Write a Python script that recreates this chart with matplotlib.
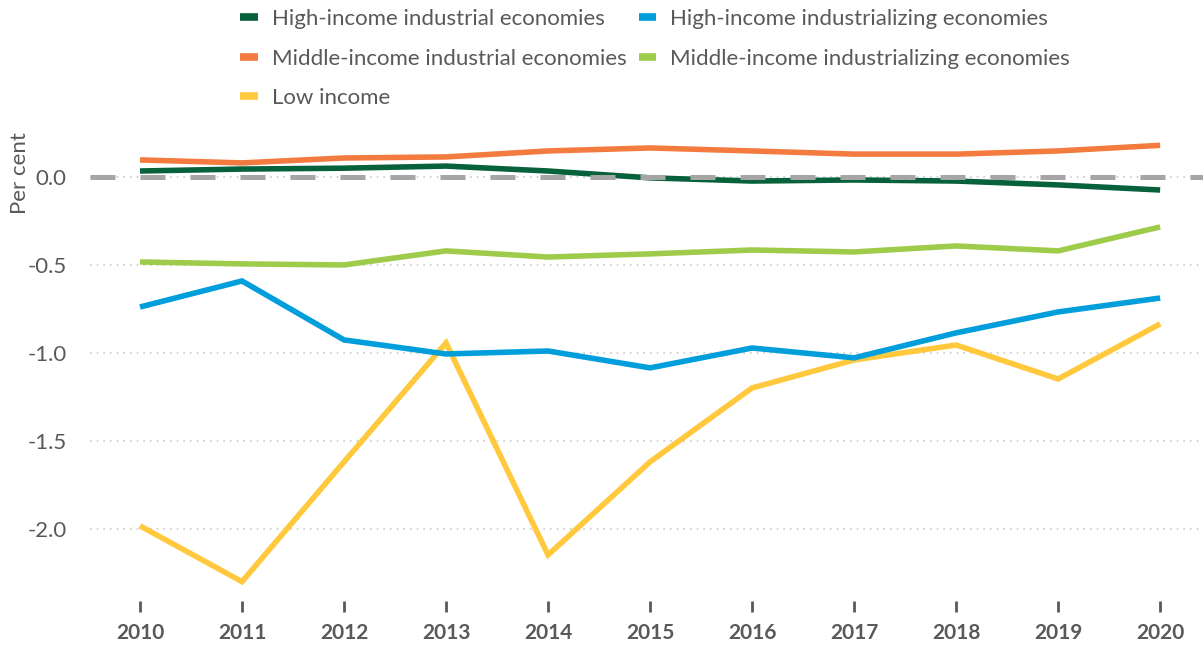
import matplotlib
matplotlib.use("Agg")
import matplotlib.pyplot as plt

# Annual values, per cent
years = [2010, 2011, 2012, 2013, 2014, 2015, 2016, 2017, 2018, 2019, 2020]
high_industrial = [0.034, 0.045, 0.050, 0.062, 0.034, -0.005, -0.023, -0.017, -0.023, -0.045, -0.074]
high_industrializing = [-0.739, -0.591, -0.926, -1.006, -0.989, -1.085, -0.972, -1.028, -0.886, -0.767, -0.688]
mid_industrial = [0.097, 0.080, 0.108, 0.114, 0.148, 0.165, 0.148, 0.130, 0.130, 0.148, 0.180]
mid_industrializing = [-0.483, -0.494, -0.500, -0.420, -0.455, -0.437, -0.415, -0.426, -0.392, -0.420, -0.284]
low_income = [-1.983, -2.300, -1.619, -0.943, -2.148, -1.619, -1.199, -1.040, -0.955, -1.148, -0.835]

y_ticks = [0.0, -0.5, -1.0, -1.5, -2.0]
y_ticklabels = ["0.0", "-0.5", "-1.0", "-1.5", "-2.0"]

plt.rcParams["font.family"] = ["Lato", "DejaVu Sans"]
TEXT = "#595959"

W, H = 1203, 646
fig = plt.figure(figsize=(W / 100, H / 100), dpi=100)

# axes placed in pixel terms
left_px, right_px, top_px, bottom_px = 90, 1203, 133, 601
ax = fig.add_axes([left_px / W, 1 - bottom_px / H,
                   (right_px - left_px) / W, (bottom_px - top_px) / H])

series = [
    ("High-income industrial economies", high_industrial, "#07613A"),
    ("Middle-income industrial economies", mid_industrial, "#F47B40"),
    ("Low income", low_income, "#FFC83D"),
    ("High-income industrializing economies", high_industrializing, "#009EDB"),
    ("Middle-income industrializing economies", mid_industrializing, "#9FCB4B"),
]

# dotted horizontal gridlines
for t in y_ticks:
    ax.axhline(t, color="#C9C9C9", lw=1.2, ls=(0, (1, 3)), zorder=1)

handles = []
for name, vals, col in series:
    ln, = ax.plot(years, vals, color=col, lw=4.0, solid_capstyle="butt",
                  solid_joinstyle="miter", label=name, zorder=3)
    handles.append(ln)

# dashed zero reference line
ax.axhline(0, color="#A5A5A5", lw=3.6, dashes=(5, 5), zorder=4)

ax.set_xlim(2009.51, 2020.42)
ax.set_ylim(-2.41, 0.25)

for s in ax.spines.values():
    s.set_visible(False)

ax.set_yticks(y_ticks)
ax.set_yticklabels(y_ticklabels)
ax.tick_params(axis="y", length=0, pad=17, labelsize=16, labelcolor=TEXT)

ax.set_xticks(years)
ax.set_xticklabels([str(y) for y in years], fontweight="bold")
ax.tick_params(axis="x", direction="out", length=8, width=2, color=TEXT,
               pad=8, labelsize=15, labelcolor=TEXT)

fig.text(20 / W, 1 - 173 / H, "Per cent", rotation=90, ha="center", va="center",
         fontsize=16, color=TEXT)

leg = fig.legend(handles=handles, ncol=2, loc="upper left",
                 bbox_to_anchor=(240 / W, 1 - 9 / H), frameon=False,
                 borderpad=0, borderaxespad=0,
                 fontsize=16, handlelength=0.8, handletextpad=0.63,
                 columnspacing=0.54, labelspacing=0.88, labelcolor=TEXT)
for lh in leg.legend_handles:
    lh.set_linewidth(5.5)

fig.savefig("out.png", dpi=100)
